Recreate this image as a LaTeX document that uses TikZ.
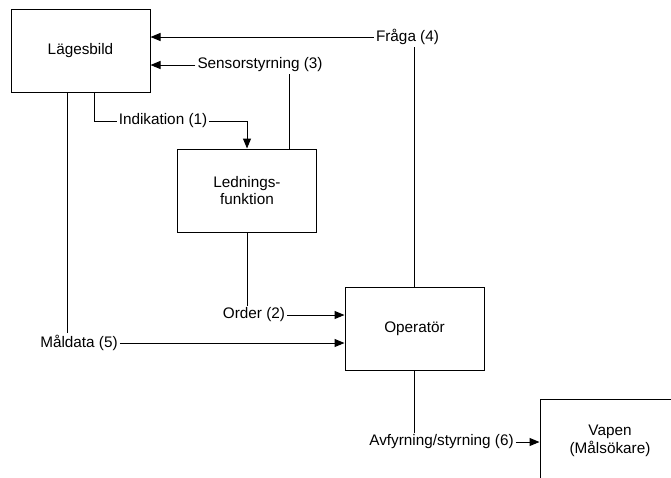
\documentclass[tikz,border=0pt]{standalone}
\usepackage{fontspec}
\setmainfont{Liberation Sans}
\usetikzlibrary{arrows.meta}
\begin{document}
\begin{tikzpicture}[x=1pt,y=-1pt,
  every node/.style={font=\fontsize{15.3}{17.5}\selectfont},
  block/.style={draw,line width=1pt,minimum width=139pt,minimum height=83pt,
    inner sep=0pt,align=center},
  lbl/.style={inner sep=2pt,align=center},
  link/.style={line width=1pt},
  flow/.style={link,-{Triangle[length=10pt,width=8pt]}}]
  \clip (0,0) rectangle (671,477);
  \fill[white] (0,0) rectangle (671,477);

  % blocks
  \node[block] (lage)  at (80.5,50.5) {Lägesbild};
  \node[block] (ledn)  at (247,190.5) {Lednings-\\funktion};
  \node[block] (oper)  at (414.5,329) {Operatör};
  \node[block,minimum width=140pt,minimum height=84pt] (vapen) at (610,441) {Vapen\\(Målsökare)};

  % labels
  \node[lbl] (fraga) at (407.5,37)  {Fråga (4)};
  \node[lbl] (sens)  at (260,65)    {Sensorstyrning (3)};
  \node[lbl] (indik) at (163,121)   {Indikation (1)};
  \node[lbl] (order) at (254,315)   {Order (2)};
  \node[lbl] (mald)  at (79,343)    {Måldata (5)};
  \node[lbl] (avf)   at (441.5,442) {Avfyrning/styrning (6)};

  % Fråga (4): Operatör -> Lägesbild
  \draw[link] (oper.north) -- (oper.north |- fraga.south);
  \draw[flow] (fraga.west) -- (lage.east |- fraga);

  % Sensorstyrning (3): Ledningsfunktion -> Lägesbild
  \draw[link] ([xshift=42pt]ledn.north) -- ([xshift=42pt]ledn.north |- sens.south);
  \draw[flow] (sens.west) -- (lage.east |- sens);

  % Indikation (1): Lägesbild -> Ledningsfunktion
  \draw[link] ([xshift=13.5pt]lage.south) |- (indik.west);
  \draw[flow] (indik.east) -| (ledn.north);

  % Order (2): Ledningsfunktion -> Operatör
  \draw[link] (ledn.south) -- (ledn.south |- order.north);
  \draw[flow] (order.east) -- (oper.west |- order);

  % Måldata (5): Lägesbild -> Operatör
  \draw[link] ([xshift=-13.5pt]lage.south) -- ([xshift=-13.5pt]lage.south |- mald.north);
  \draw[flow] (mald.east) -- (oper.west |- mald);

  % Avfyrning/styrning (6): Operatör -> Vapen
  \draw[link] (oper.south) -- (oper.south |- avf.north);
  \draw[flow] (avf.east) -- (vapen.west |- avf);
\end{tikzpicture}
\end{document}
